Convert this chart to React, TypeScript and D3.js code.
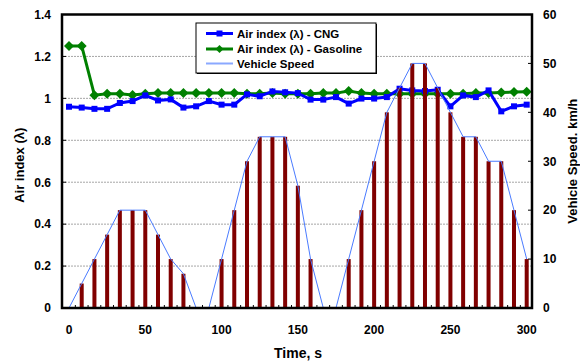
import React from "react";
import * as d3 from "d3";

const times = [0, 8.33, 16.67, 25, 33.33, 41.67, 50, 58.33, 66.67, 75, 83.33, 91.67, 100, 108.33, 116.67, 125, 133.33, 141.67, 150, 158.33, 166.67, 175, 183.33, 191.67, 200, 208.33, 216.67, 225, 233.33, 241.67, 250, 258.33, 266.67, 275, 283.33, 291.67, 300];
const speed = [0, 5, 10, 15, 20, 20, 20, 15, 10, 7, 0, 0, 10, 20, 30, 35, 35, 35, 25, 10, 0, 0, 10, 20, 30, 40, 45, 50, 50, 45, 40, 35, 35, 30, 30, 20, 10];
const cng = [0.96, 0.956, 0.95, 0.95, 0.978, 0.987, 1.014, 0.99, 0.995, 0.956, 0.962, 0.987, 0.97, 0.97, 1.019, 1.01, 1.033, 1.029, 1.025, 0.994, 0.994, 1.006, 0.975, 0.999, 0.999, 1.006, 1.046, 1.038, 1.035, 1.041, 0.962, 1.014, 1.006, 1.038, 0.938, 0.962, 0.97];
const gasoline = [1.25, 1.25, 1.015, 1.022, 1.022, 1.016, 1.022, 1.025, 1.025, 1.025, 1.025, 1.025, 1.025, 1.025, 1.022, 1.022, 1.025, 1.022, 1.022, 1.022, 1.025, 1.025, 1.035, 1.025, 1.022, 1.022, 1.022, 1.022, 1.022, 1.022, 1.022, 1.022, 1.025, 1.025, 1.028, 1.03, 1.032];
const leftTicks = [0, 0.2, 0.4, 0.6, 0.8, 1, 1.2, 1.4];
const rightTicks = [0, 10, 20, 30, 40, 50, 60];
const xTicks = [0, 50, 100, 150, 200, 250, 300];
const legendLabels = ["Air index (\u03bb) - CNG", "Air index (\u03bb) - Gasoline", "Vehicle Speed"];

const W = 580, H = 363;
const frame = { left: 62, right: 532, top: 14.5, bottom: 308 };
const FONT = "'Liberation Sans', Arial, sans-serif";
const BLUE = "#0000ff", GREEN = "#008000", RED = "#800000", SPEED = "#4a7bff";

export default function App() {
  const x = d3.scaleLinear().domain([0, 300]).range([69, 526.7]);
  const yL = d3.scaleLinear().domain([0, 1.4]).range([frame.bottom, frame.top]);
  const yR = d3.scaleLinear().domain([0, 60]).range([frame.bottom, frame.top]);

  const lineL = (vals: number[]) =>
    d3.line<number>().x((_, i) => x(times[i])).y((d) => yL(d))(vals) || "";
  const speedLine = d3.line<number>().x((_, i) => x(times[i])).y((d) => yR(d))(speed) || "";

  const diamond = (cx: number, cy: number, r: number) =>
    `M${cx},${cy - r}L${cx + r},${cy}L${cx},${cy + r}L${cx - r},${cy}Z`;

  const midTicks = times.slice(0, -1).map((t, i) => (t + times[i + 1]) / 2);

  const lg = { x: 196, y: 23, w: 180, h: 50 };
  const rowY = [33.5, 49, 63.5];

  return (
    <div style={{ position: "fixed", left: 0, top: 0 }}>
      <svg width={W} height={H} style={{ display: "block", background: "#fff" }} fontFamily={FONT} fontWeight="bold">
        {/* gridlines */}
        {leftTicks.filter((t) => t > 0 && t < 1.4).map((t) => (
          <line key={"g" + t} x1={frame.left} x2={frame.right} y1={yL(t)} y2={yL(t)} stroke="#a6a6a6" strokeWidth={1} strokeDasharray="2 1" />
        ))}

        {/* air index lines */}
        <path d={lineL(gasoline)} fill="none" stroke={GREEN} strokeWidth={3} />
        {gasoline.map((v, i) => (
          <path key={"gm" + i} d={diamond(x(times[i]), yL(v), 5)} fill={GREEN} />
        ))}
        <path d={lineL(cng)} fill="none" stroke={BLUE} strokeWidth={3} />
        {cng.map((v, i) => (
          <rect key={"cm" + i} x={x(times[i]) - 3} y={yL(v) - 3} width={6} height={6} fill={BLUE} />
        ))}

        {/* speed bars */}
        {speed.map((v, i) => (v > 0 ? (
          <rect key={"b" + i} x={x(times[i]) - 2} y={yR(v)} width={4} height={yR(0) - yR(v)} fill={RED} />
        ) : null))}
        <path d={speedLine} fill="none" stroke={SPEED} strokeWidth={1} />

        {/* frame */}
        <rect x={frame.left} y={frame.top} width={frame.right - frame.left} height={frame.bottom - frame.top} fill="none" stroke="#000" strokeWidth={2.5} />

        {/* left ticks */}
        {leftTicks.map((t) => (
          <g key={"l" + t}>
            <line x1={frame.left} x2={frame.left + 4} y1={yL(t)} y2={yL(t)} stroke="#000" strokeWidth={1} />
            <text x={51} y={yL(t) + 4.3} textAnchor="end" fontSize={12}>{String(t)}</text>
          </g>
        ))}
        {/* right ticks */}
        {rightTicks.map((t) => (
          <g key={"r" + t}>
            <line x1={frame.right - 4} x2={frame.right} y1={yR(t)} y2={yR(t)} stroke="#000" strokeWidth={1} />
            <text x={543} y={yR(t) + 4.3} textAnchor="start" fontSize={12}>{String(t)}</text>
          </g>
        ))}
        {/* bottom ticks */}
        {midTicks.map((t, i) => (
          <line key={"m" + i} x1={x(t)} x2={x(t)} y1={frame.bottom} y2={frame.bottom - 3} stroke="#000" strokeWidth={1} />
        ))}
        {xTicks.map((t) => (
          <text key={"x" + t} x={x(t)} y={333.5} textAnchor="middle" fontSize={12}>{String(t)}</text>
        ))}

        {/* axis titles */}
        <text x={298} y={358} textAnchor="middle" fontSize={14}>Time, s</text>
        <text transform={`translate(24,${(frame.top + frame.bottom) / 2 + 4}) rotate(-90)`} textAnchor="middle" fontSize={13}>Air index (λ)</text>
        <text transform={`translate(577,${(frame.top + frame.bottom) / 2}) rotate(-90)`} textAnchor="middle" fontSize={13}>Vehicle Speed. km/h</text>

        {/* legend */}
        <rect x={lg.x + 1} y={lg.y + 1} width={lg.w} height={lg.h} fill="#000" />
        <rect x={lg.x} y={lg.y} width={lg.w} height={lg.h} fill="#fff" stroke="#000" strokeWidth={1} />
        <line x1={206} x2={233} y1={rowY[0]} y2={rowY[0]} stroke={BLUE} strokeWidth={3} />
        <rect x={219.5 - 3} y={rowY[0] - 3} width={6} height={6} fill={BLUE} />
        <line x1={206} x2={233} y1={rowY[1]} y2={rowY[1]} stroke={GREEN} strokeWidth={3} />
        <path d={diamond(219.5, rowY[1], 4)} fill={GREEN} />
        <line x1={206} x2={233} y1={rowY[2]} y2={rowY[2]} stroke="#8aa8ff" strokeWidth={2} />
        {legendLabels.map((l, i) => (
          <text key={l} x={237} y={rowY[i] + 4} fontSize={11.5}>{l}</text>
        ))}
      </svg>
    </div>
  );
}
